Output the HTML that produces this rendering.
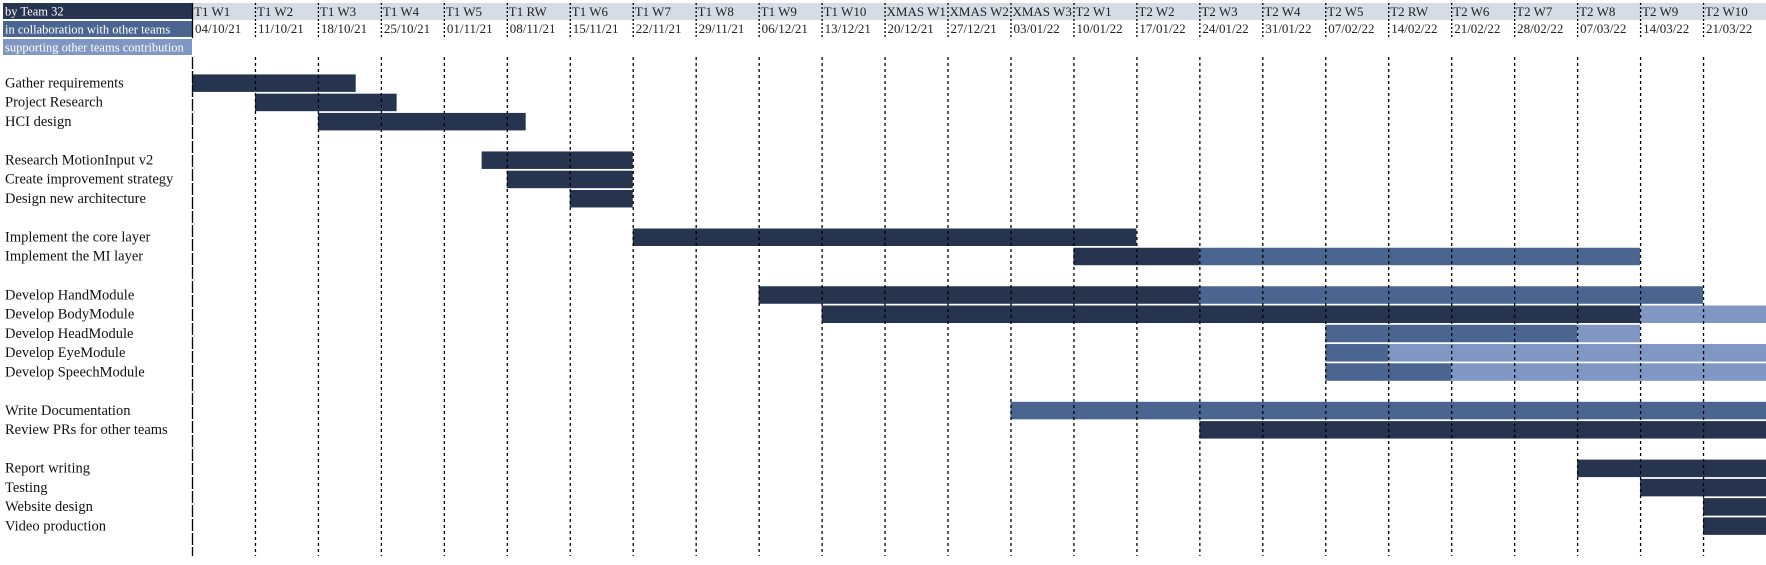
<!DOCTYPE html>
<html><head><meta charset="utf-8"><style>
html,body{margin:0;padding:0;background:#fff;}
body{width:1766px;height:560px;overflow:hidden;position:relative;font-family:"Liberation Serif",serif;}
</style></head><body>
<svg id="chart" width="1766" height="560" xmlns="http://www.w3.org/2000/svg"></svg>
<script>
const weeks=["T1 W1","T1 W2","T1 W3","T1 W4","T1 W5","T1 RW","T1 W6","T1 W7","T1 W8","T1 W9","T1 W10","XMAS W1","XMAS W2","XMAS W3","T2 W1","T2 W2","T2 W3","T2 W4","T2 W5","T2 RW","T2 W6","T2 W7","T2 W8","T2 W9","T2 W10"];
const dates=["04/10/21","11/10/21","18/10/21","25/10/21","01/11/21","08/11/21","15/11/21","22/11/21","29/11/21","06/12/21","13/12/21","20/12/21","27/12/21","03/01/22","10/01/22","17/01/22","24/01/22","31/01/22","07/02/22","14/02/22","21/02/22","28/02/22","07/03/22","14/03/22","21/03/22"];
const tasks=["","Gather requirements","Project Research","HCI design","","Research MotionInput v2","Create improvement strategy","Design new architecture","","Implement the core layer","Implement the MI layer","","Develop HandModule","Develop BodyModule","Develop HeadModule","Develop EyeModule","Develop SpeechModule","","Write Documentation","Review PRs for other teams","","Report writing","Testing","Website design","Video production",""];
// segments: [rowIndex, startWeek, endWeek, type] type 0=dark,1=mid,2=light
const segRows=[1,2,3,5,6,7,9,10,10,12,12,13,13,14,14,15,15,16,16,18,19,21,22,23,24];
const segStart=[0,1,2,4.6,5,6,7,14,16,9,16,10,23,18,22,18,19,18,20,13,16,22,23,24,24];
const segEnd=[2.6,3.25,5.3,7,7,7,15,16,23,16,24,23,25,22,23,19,25,20,25,25,25,25,25,25,25];
const segType=[0,0,0,0,0,0,0,0,1,0,1,0,2,1,2,1,2,1,2,1,0,0,0,0,0];

const svg=document.getElementById('chart');
const NS="http://www.w3.org/2000/svg";
const X0=192, CW=(1766-192)/25, R0=73.4, RH=19.26;
const colors=["#263450","#4a6590","#7f97c2"];
function x(w){return X0+w*CW;}
function rowTop(r){return R0+(r-1)*RH;}
function mk(tag,attrs,parent){const e=document.createElementNS(NS,tag);for(const k in attrs)e.setAttribute(k,attrs[k]);(parent||svg).appendChild(e);return e;}

// header background
const hb=mk('rect',{x:X0,y:3,width:1766-X0,height:17,fill:"#d6dce5"});


// legend boxes
const legs=[["by Team 32",colors[0],3],["in collaboration with other teams",colors[1],21],["supporting other teams contribution",colors[2],39]];
legs.forEach((l,i)=>{
  const g=mk('g',{});
  
  
  mk('rect',{x:3,y:l[2],width:189,height:16,fill:l[1]},g);
  const t=mk('text',{x:5,y:l[2]+12.5,fill:"#fff","font-size":"12.5"},g);
  t.textContent=l[0];
});
// week header text
weeks.forEach((w,i)=>{
  const t=mk('text',{x:x(i)+2,y:16,"font-size":"13",fill:"#222"});
  t.textContent=w;
  
  
  const d=mk('text',{x:x(i)+3,y:33,"font-size":"13",fill:"#222"});
  d.textContent=dates[i];
  
  
});
// task labels
tasks.forEach((t,r)=>{
  if(!t)return;
  const e=mk('text',{x:5,y:rowTop(r)+14,"font-size":"14.5",fill:"#111"});
  e.textContent=t;
  
  
});
// bars
segRows.forEach((r,i)=>{
  const b=mk('rect',{x:x(segStart[i]),y:rowTop(r)+1,width:x(segEnd[i])-x(segStart[i]),height:17.5,fill:colors[segType[i]]});
  
  
});
// grid lines
for(let i=0;i<25;i++){
  const l1=mk('line',{x1:x(i)+0.5,x2:x(i)+0.5,y1:3,y2:38,stroke:"#000","stroke-width":1.3,"stroke-dasharray":i==0?"none":"2,2"});
  
  
  const l=mk('line',{x1:x(i)+0.5,x2:x(i)+0.5,y1:57,y2:556,stroke:"#000","stroke-width":1.3,"stroke-dasharray":i==0?"12,2":"3,3"});
  
  
}
</script>
</body></html>
